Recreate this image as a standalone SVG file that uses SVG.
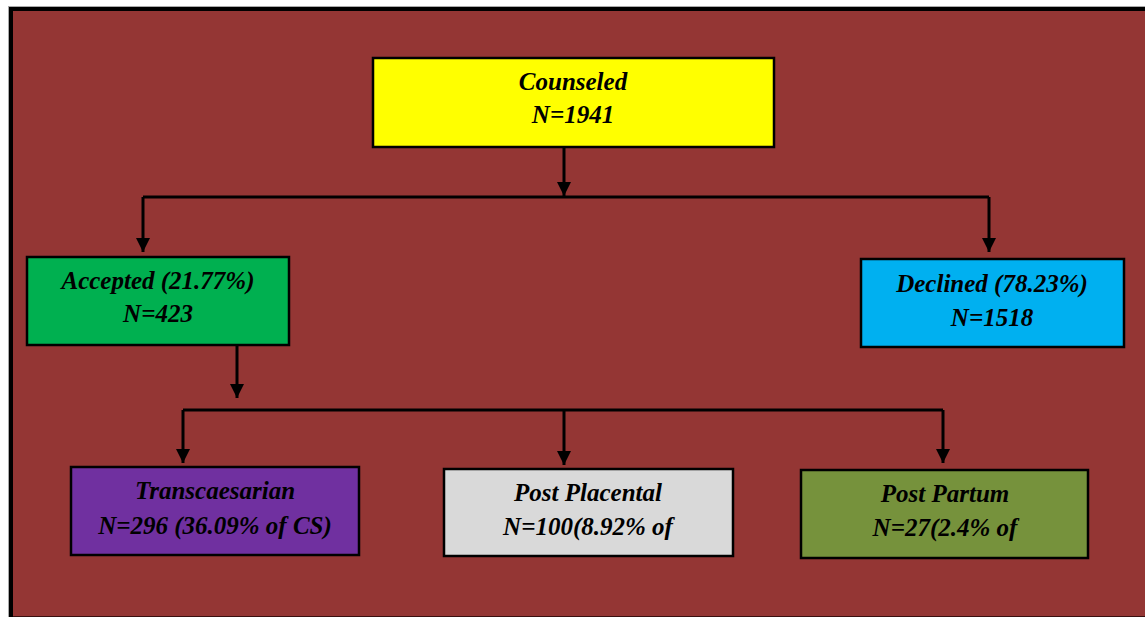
<svg xmlns="http://www.w3.org/2000/svg" width="1145" height="617" viewBox="0 0 1145 617">
<style>
.box{stroke:#000;stroke-width:2.5}
.t{font-family:"Liberation Serif","Times New Roman",serif;font-style:italic;font-weight:bold;font-size:25px;fill:#000;text-anchor:middle}
.c{fill:none;stroke:#000;stroke-width:3}
</style>
<defs>
<marker id="ah" viewBox="0 0 10 10" refX="10" refY="5" markerWidth="4.8" markerHeight="4.8" markerUnits="strokeWidth" orient="auto">
<path d="M0,0 L10,5 L0,10 z" fill="#000"/>
</marker>
</defs>
<rect width="1145" height="617" fill="#fff"/>
<rect x="8" y="6" width="1137" height="611" fill="#aaa"/>
<rect x="9" y="7" width="1136" height="610" fill="#000"/>
<rect x="13" y="11" width="1132" height="605" fill="#943634"/>
<line x1="13" y1="616.5" x2="1145" y2="616.5" stroke="#3a1010" stroke-width="1"/>
<g id="connectors">
<path class="c" d="M564,147 V196" marker-end="url(#ah)"/>
<path class="c" d="M143,197 H989"/>
<path class="c" d="M143,197 V252" marker-end="url(#ah)"/>
<path class="c" d="M989,197 V252" marker-end="url(#ah)"/>
<path class="c" d="M237,345 V398" marker-end="url(#ah)"/>
<path class="c" d="M183,410 H943"/>
<path class="c" d="M183,410 V463" marker-end="url(#ah)"/>
<path class="c" d="M564,410 V465" marker-end="url(#ah)"/>
<path class="c" d="M943,410 V463" marker-end="url(#ah)"/>
</g>
<g id="counseled">
<rect class="box" x="373" y="58" width="401" height="89" fill="#ffff00"/>
<text class="t" x="573" y="90">Counseled</text>
<text class="t" x="573" y="123">N=1941</text>
</g>
<g id="accepted">
<rect class="box" x="27" y="257" width="262" height="88" fill="#00b050"/>
<text class="t" x="158" y="289">Accepted (21.77%)</text>
<text class="t" x="158" y="322">N=423</text>
</g>
<g id="declined">
<rect class="box" x="861" y="259" width="263" height="88" fill="#00b0f0"/>
<text class="t" x="992" y="292">Declined (78.23%)</text>
<text class="t" x="992" y="326">N=1518</text>
</g>
<g id="transcaesarian">
<rect class="box" x="71" y="467" width="288" height="88" fill="#7030a0"/>
<text class="t" x="215" y="499">Transcaesarian</text>
<text class="t" x="215" y="534">N=296 (36.09% of CS)</text>
</g>
<g id="postplacental">
<rect class="box" x="444" y="469" width="289" height="87" fill="#d9d9d9"/>
<text class="t" x="588" y="501">Post Placental</text>
<text class="t" x="588" y="535">N=100(8.92% of</text>
</g>
<g id="postpartum">
<rect class="box" x="801" y="470" width="287" height="88" fill="#76923c"/>
<text class="t" x="945" y="502">Post Partum</text>
<text class="t" x="945" y="536">N=27(2.4% of</text>
</g>
</svg>
